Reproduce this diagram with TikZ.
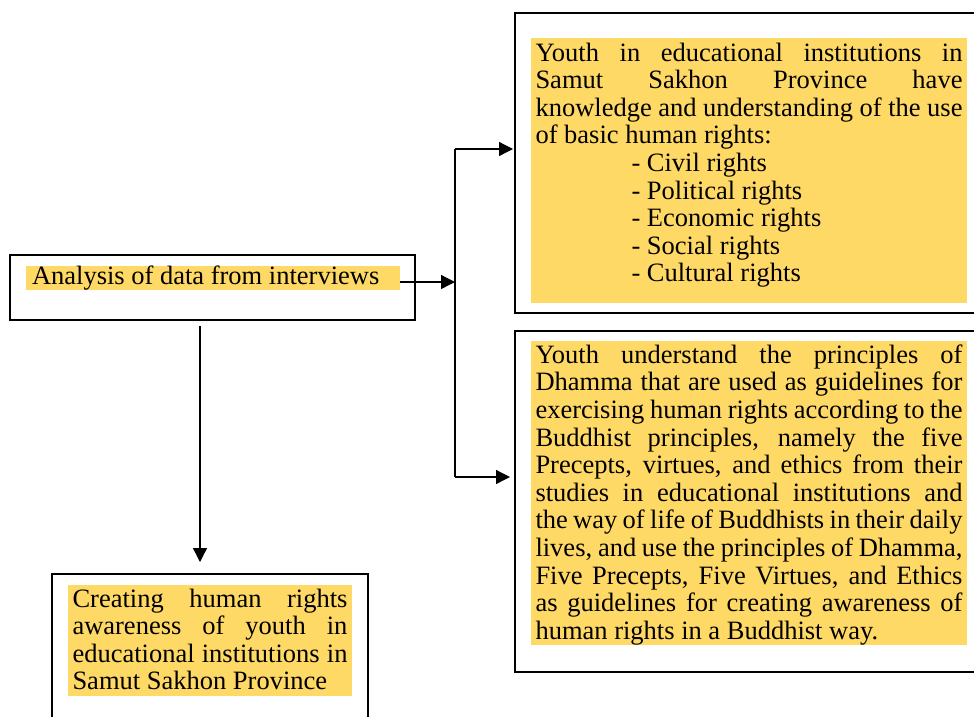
\documentclass[tikz,border=0pt]{standalone}
\usepackage{fontspec}
\setmainfont{Liberation Serif}
\usetikzlibrary{arrows.meta, positioning}
\definecolor{gold}{HTML}{FFD966}
\hyphenpenalty=10000
\tolerance=10000

\begin{document}
\begin{tikzpicture}[x=1pt, y=-1pt,
    boxframe/.style={draw, line width=2pt, inner sep=0pt, outer sep=0pt, anchor=north west},
    hilite/.style={fill=gold, inner xsep=4.5pt, inner ysep=0pt, outer sep=0pt, anchor=north west, align=justify, font=\fontsize{26.5pt}{27.6pt}\selectfont},
    arr/.style={-{Triangle[length=14pt, width=14pt]}, line width=1.3pt}]
    \useasboundingbox (0,0) rectangle (974,716);
    \clip (0,0) rectangle (974,716);

    \node[boxframe, minimum width=405pt, minimum height=65pt] (anabox) at (10,255) {};
    \node[boxframe, minimum width=480pt, minimum height=300pt] (rightsbox) at (515,13) {};
    \node[boxframe, minimum width=480pt, minimum height=341pt] (dhammabox) at (515,331) {};
    \node[boxframe, minimum width=316pt, minimum height=200pt] (awarebox) at (52,574) {};

    \node[hilite, inner xsep=6pt, text width=362pt] (ana) at (26,266)
        {\rule[-4.7pt]{0pt}{22.3pt}Analysis of data from interviews};
    \node[hilite, text width=427pt] (rights) at (531,38)
        {\rule{0pt}{23pt}Youth in educational institutions in\linebreak
         Samut Sakhon Province have\linebreak
         knowledge and understanding of the use\linebreak
         of basic human rights:\\
         \hspace*{96pt}- Civil rights\\
         \hspace*{96pt}- Political rights\\
         \hspace*{96pt}- Economic rights\\
         \hspace*{96pt}- Social rights\\
         \hspace*{96pt}- Cultural rights\rule[-21pt]{0pt}{21pt}};
    \node[hilite, text width=427pt] (dhamma) at (531,341)
        {\rule{0pt}{22.3pt}Youth understand the principles of\linebreak
         Dhamma that are used as guidelines for\linebreak
         exercising human rights according to the\linebreak
         Buddhist principles, namely the five\linebreak
         Precepts, virtues, and ethics from their\linebreak
         studies in educational institutions and\linebreak
         the way of life of Buddhists in their daily\linebreak
         lives, and use the principles of Dhamma,\linebreak
         Five Precepts, Five Virtues, and Ethics\linebreak
         as guidelines for creating awareness of\linebreak
         human rights in a Buddhist way.\rule[-6pt]{0pt}{6pt}};
    \node[hilite, text width=275pt] (aware) at (68,585)
        {\rule{0pt}{22pt}Creating human rights\linebreak
         awareness of youth in\linebreak
         educational institutions in\linebreak
         Samut Sakhon Province\rule[-6.2pt]{0pt}{6.2pt}};

    \coordinate (jn) at (455,282);
    \coordinate (up) at (513,149);
    \coordinate (lo) at (510,477);
    \coordinate (dn) at (200,562);
    \draw[arr] (ana.east |- jn) -- (jn);
    \draw[line width=1.3pt] (jn |- up) -- (jn |- lo);
    \draw[arr] (jn |- up) -- (up);
    \draw[arr] (jn |- lo) -- (lo);
    \draw[arr, shorten <=6pt] (anabox.south -| dn) -- (dn);
\end{tikzpicture}
\end{document}
